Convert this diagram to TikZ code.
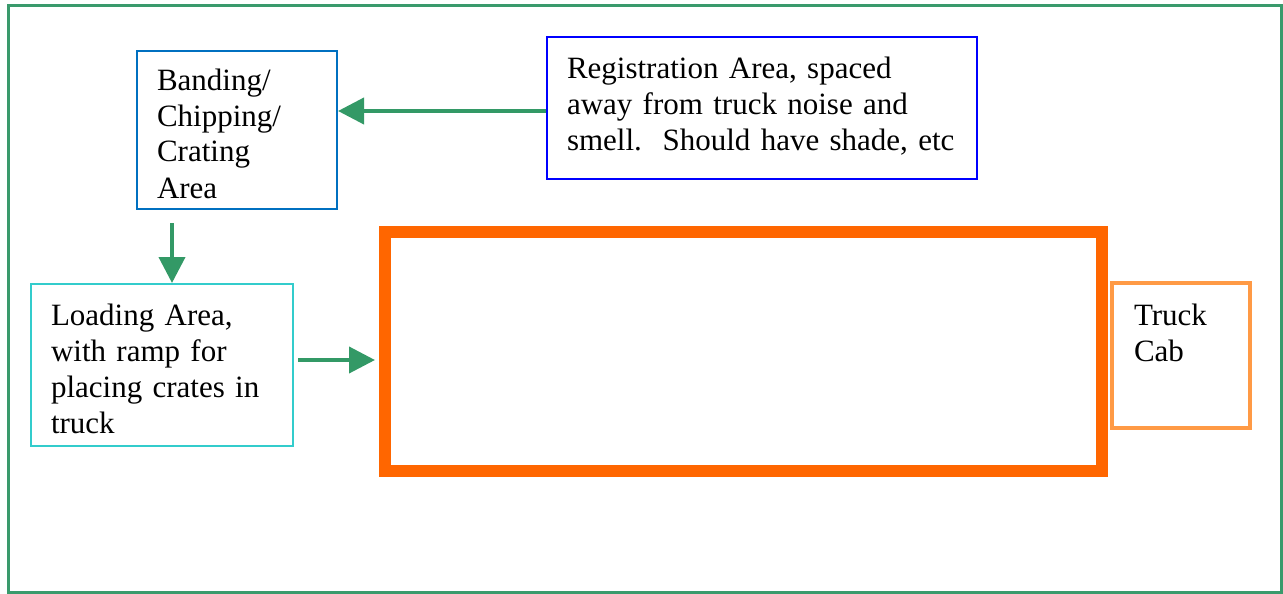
\documentclass[tikz,border=0pt]{standalone}
\usepackage{fontspec}
\setmainfont{Liberation Serif}
\usepackage{tikz}
\usetikzlibrary{positioning,arrows.meta}
\definecolor{sitegreen}{HTML}{3A9A6C}
\definecolor{arrowgreen}{HTML}{339966}
\definecolor{bandblue}{HTML}{0070C0}
\definecolor{regblue}{HTML}{0000FF}
\definecolor{loadcyan}{HTML}{33CCCC}
\definecolor{truckorange}{HTML}{FF6600}
\definecolor{caborange}{HTML}{FF9A45}

\begin{document}
\begin{tikzpicture}[x=1pt, y=-1pt,
    every node/.style={font=\fontsize{31}{36}\selectfont},
    area/.style={draw, line width=2pt, align=left, inner xsep=20pt, inner ysep=0pt, anchor=north west},
    arrow/.style={-{Triangle[length=26pt,width=26pt]}, line width=4pt, arrowgreen},
]
\useasboundingbox (0,0) rectangle (1283,594);

% Site boundary
\node[draw=sitegreen, line width=3pt, minimum width=1272.5pt, minimum height=586pt, inner sep=0pt, anchor=north west] (site) at (7,4.5) {};

\node[area, draw=bandblue, text width=160pt, text height=39pt, text depth=119pt] (band) at (136,50) {Banding/\\Chipping/\\Crating\\Area};
\node[area, draw=regblue, text width=390pt, text height=41pt, text depth=101pt] (reg) at (546,36) {Registration Area, spaced\\away from truck noise and\\\mbox{smell.\ \ Should have shade, etc}};
\node[area, draw=loadcyan, text width=222pt, text height=41pt, text depth=121pt] (load) at (30,283) {Loading Area,\\with ramp for\\placing crates in\\truck};

% Truck
\node[draw=truckorange, line width=12pt, minimum width=717pt, minimum height=239pt, inner sep=0pt, anchor=north west] (truck) at (379,226) {};
\node[area, draw=caborange, line width=4pt, inner xsep=22pt, text width=94pt, text height=42pt, text depth=103pt] (cab) at (1110,281) {Truck\\Cab};

\draw[arrow] ([yshift=-3pt]reg.west) -- ([yshift=-3pt]reg.west -| band.east);
\coordinate (drop) at (172,223);
\draw[arrow] (drop) -- (drop |- load.north);
\draw[arrow] ([xshift=4pt,yshift=5pt]load.east) -- ([xshift=-4pt,yshift=5pt]load.east -| truck.west);

\end{tikzpicture}
\end{document}
